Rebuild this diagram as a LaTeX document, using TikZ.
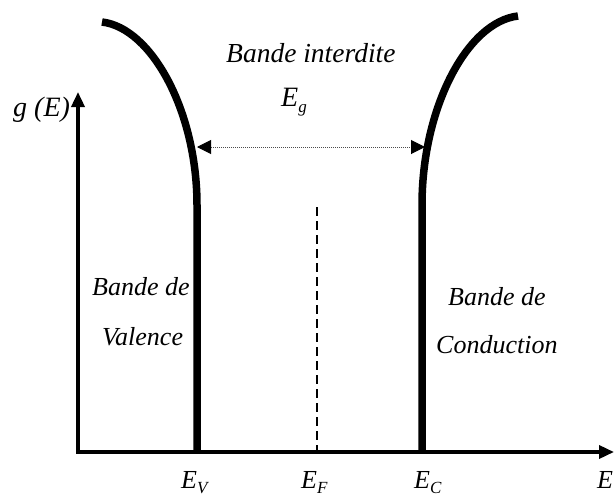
\documentclass[tikz,border=0pt]{standalone}
\usepackage{fontspec}
\setmainfont{Liberation Serif}
\usetikzlibrary{arrows.meta}
\newcommand{\lowsub}[1]{\raisebox{-0.22em}{\fontsize{17}{17}\selectfont #1}}
\begin{document}
\begin{tikzpicture}[x=1pt,y=-1pt,
  lbl/.style={font=\fontsize{26}{26}\selectfont\itshape, inner sep=0pt, anchor=base west},
  biglbl/.style={lbl, font=\fontsize{28}{28}\selectfont\itshape},
  axisline/.style={line width=3.5pt, -{Triangle[length=15pt,width=13pt]}},
  bandline/.style={line width=7.5pt},
  gapline/.style={line width=1pt, densely dotted, black!70, {Triangle[length=14pt,width=14pt,black]}-{Triangle[length=14pt,width=14pt,black]}},
  fermiline/.style={line width=2.5pt, dash pattern=on 9pt off 5pt}]
\useasboundingbox (0,0) rectangle (616,498);
% axes
\coordinate (O) at (78,452);
\coordinate (Ytop) at (78,92);
\coordinate (Xend) at (614,452);
\draw[axisline] ([xshift=-1.75pt]O) -- (Xend);
\draw[axisline] (O) -- (Ytop);
% band edges with density of states curves
\coordinate (Ltop) at (102,22);
\coordinate (Rtop) at (518,16);
\coordinate (EVtop) at (197,205);
\coordinate (EVbot) at (197,452);
\coordinate (ECtop) at (422,205);
\coordinate (ECbot) at (422,452);
\coordinate (EFtop) at (317,207);
\coordinate (EFbot) at (317,452);
\draw[bandline] (Ltop) .. controls (152,28) and (197,112) .. (EVtop) -- (EVbot);
\draw[bandline] (Rtop) .. controls (467,22) and (422,108) .. (ECtop) -- (ECbot);
\draw[fermiline] (EFtop) -- (EFbot);
% gap arrow
\coordinate (Ga) at (197,147);
\coordinate (Gb) at (425,147);
\draw[gapline] (Ga) -- (Gb);
% labels
\node[biglbl] (gE) at (13,116) {g (E)};
\node[lbl, font=\fontsize{27.5}{27.5}\selectfont\itshape] (title) at (226,62) {Bande interdite};
\node[biglbl] (Eg) at (281,106) {E\lowsub{g}};
\node[lbl] (bv1) at (92,295) {Bande de};
\node[lbl] (bv2) at (102,345) {Valence};
\node[lbl] (bc1) at (448,305) {Bande de};
\node[lbl] (bc2) at (436,353) {Conduction};
\node[lbl] (EV) at (181,488) {E\lowsub{V}};
\node[lbl] (EF) at (301,488) {E\lowsub{F}};
\node[lbl] (EC) at (414,488) {E\lowsub{C}};
\node[lbl] (E) at (597,488) {E};
\end{tikzpicture}
\end{document}
